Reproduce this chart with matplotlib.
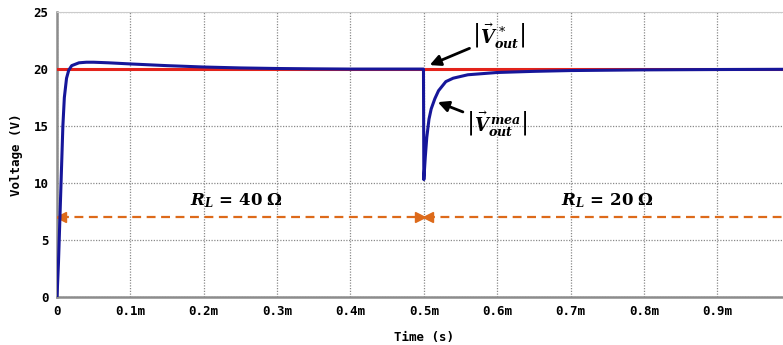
import numpy as np
import matplotlib.pyplot as plt

plt.rcParams['mathtext.fontset'] = 'dejavuserif'

# measured output voltage (time in ms, volts)
t_ms = [0, 0.002, 0.004, 0.006, 0.008, 0.010, 0.013, 0.016, 0.020, 0.030, 0.040,
        0.050, 0.070, 0.100, 0.150, 0.200, 0.250, 0.300, 0.350, 0.400, 0.4995,
        0.500, 0.502, 0.504, 0.507, 0.510, 0.515, 0.520, 0.530, 0.540, 0.560,
        0.600, 0.650, 0.700, 0.800, 0.900, 1.000]
v_mea = [0, 3.0, 7.0, 11.0, 15.0, 17.5, 19.2, 19.9, 20.3, 20.55, 20.6,
         20.6, 20.55, 20.45, 20.3, 20.18, 20.1, 20.05, 20.02, 20.0, 20.0,
         10.3, 12.3, 14.0, 15.6, 16.5, 17.4, 18.1, 18.9, 19.2, 19.5,
         19.7, 19.8, 19.87, 19.93, 19.96, 19.98]
# reference voltage
t_ref = [0, 1.0]
v_ref = [20, 20]

xticks = [0, 0.1, 0.2, 0.3, 0.4, 0.5, 0.6, 0.7, 0.8, 0.9, 1.0]
xlabels = ['0', '0.1m', '0.2m', '0.3m', '0.4m', '0.5m', '0.6m', '0.7m', '0.8m', '0.9m', '1m']
yticks = [0, 5, 10, 15, 20, 25]

fig = plt.figure(figsize=(7.83, 3.45), dpi=100)
ax = fig.add_axes([0.0728, 0.139, 0.937, 0.826])

ax.plot(t_ref, v_ref, color='#E3231B', lw=2.2, zorder=3)
ax.plot(t_ms, v_mea, color='#16169A', lw=2.2, zorder=4)

# load regions
orange = '#DD6A1A'
ax.plot([0.004, 0.497], [7, 7], ls='--', color=orange, lw=1.6, dashes=(4, 2.5), zorder=3)
ax.plot([0.503, 1.0], [7, 7], ls='--', color=orange, lw=1.6, dashes=(4, 2.5), zorder=3)
ax.plot([0.006], [7], marker='<', color=orange, ms=7, zorder=3)
ax.plot([0.495], [7], marker='>', color=orange, ms=7, zorder=3)
ax.plot([0.505], [7], marker='<', color=orange, ms=7, zorder=3)
ax.text(0.245, 7.6, r'$\mathbfit{R}_{\mathbfit{L}}\,\mathbf{=\,40\ \Omega}$', fontsize=12,
        ha='center', va='bottom')
ax.text(0.75, 7.6, r'$\mathbfit{R}_{\mathbfit{L}}\,\mathbf{=\,20\ \Omega}$', fontsize=12,
        ha='center', va='bottom')

ax.annotate(r'$\left|\vec{\mathbfit{V}}^{\,*}_{\mathbfit{out}}\right|$', xy=(0.508, 20.35),
            xytext=(0.566, 22.9), fontsize=13, ha='left', va='center',
            arrowprops=dict(arrowstyle='-|>', color='black', lw=2, mutation_scale=16,
                            shrinkA=0, shrinkB=0), zorder=5)
ax.annotate(r'$\left|\vec{\mathbfit{V}}^{\,\mathbfit{mea}}_{\mathbfit{out}}\right|$',
            xy=(0.519, 17.1), xytext=(0.557, 15.1), fontsize=13, ha='left', va='center',
            arrowprops=dict(arrowstyle='-|>', color='black', lw=2, mutation_scale=16,
                            shrinkA=0, shrinkB=0), zorder=5)

ax.set_xlim(0, 1.0)
ax.set_ylim(0, 25)
ax.set_xticks(xticks)
ax.set_xticklabels(xlabels, fontsize=9, fontweight='bold', family='DejaVu Sans Mono')
ax.set_yticks(yticks)
ax.set_yticklabels([str(v) for v in yticks], fontsize=9, fontweight='bold',
                   family='DejaVu Sans Mono')
ax.tick_params(length=0, pad=6)
ax.grid(True, ls=(0, (1, 1.2)), color='#8a8a8a', lw=0.9)
for s in ['left', 'bottom']:
    ax.spines[s].set_color('#8c8c8c')
    ax.spines[s].set_linewidth(1.8)
for s in ['top', 'right']:
    ax.spines[s].set_color('#cccccc')
ax.set_xlabel('Time (s)', fontsize=9, fontweight='bold', family='DejaVu Sans Mono', labelpad=9)
ax.set_ylabel('Voltage (V)', fontsize=9, fontweight='bold', family='DejaVu Sans Mono', labelpad=8)

fig.savefig('out.png', dpi=100)
